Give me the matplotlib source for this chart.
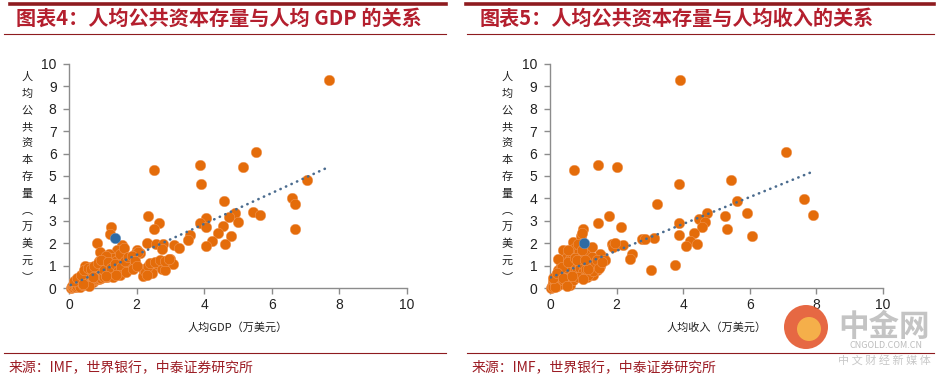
import matplotlib
matplotlib.use("Agg")
import matplotlib.pyplot as plt
from matplotlib.patches import Circle
from matplotlib.transforms import IdentityTransform
import numpy as np

plt.rcParams['font.family'] = ['Noto Sans CJK SC', 'DejaVu Sans']

# ---------------- data ----------------
gdp_x = [7.68, 2.50, 3.88, 3.92, 5.16, 5.52, 7.04, 6.59, 6.69, 6.69, 4.60, 5.43, 5.66, 4.92, 5.01,
         4.72, 4.06, 3.88, 4.06, 4.57, 4.42, 4.80, 4.24, 4.62, 4.04, 3.59, 3.53, 2.33, 2.67, 2.50,
         2.30, 2.56, 2.79, 2.74, 3.11, 3.25, 2.00, 2.10, 2.20, 2.20, 2.50, 2.60, 2.79, 2.74, 2.45,
         2.99, 3.09, 2.84, 1.24, 0.82, 0.92, 1.21, 1.56, 1.41, 1.61, 1.71, 1.81, 1.86,
         2.25, 2.35, 2.40, 2.55, 2.70, 2.85, 2.95, 2.30,
         0.05, 0.08, 0.10, 0.12, 0.15, 0.18, 0.20, 0.22, 0.25, 0.28, 0.30, 0.32, 0.35, 0.38, 0.40,
         0.42, 0.45, 0.48, 0.50, 0.52, 0.55, 0.58, 0.60, 0.62, 0.65, 0.68, 0.70, 0.72, 0.75, 0.78,
         0.80, 0.82, 0.85, 0.88, 0.90, 0.92, 0.95, 0.98, 1.00, 1.02, 1.05, 1.08, 1.10, 1.12, 1.15,
         1.18, 1.20, 1.22, 1.25, 1.28, 1.30, 1.32, 1.35, 1.38, 1.40, 1.42, 1.45, 1.50, 1.52, 1.55,
         1.60, 1.62, 1.65, 1.70, 1.75, 1.80, 1.85, 1.90, 1.95, 2.05, 0.60, 0.30, 0.48, 1.08, 1.62,
         0.15, 0.25, 0.35, 0.45, 0.55, 0.65, 0.75, 0.85, 0.95, 1.05, 1.15, 1.25, 1.35, 1.45, 1.55,
         1.65, 1.75, 1.85, 1.95, 1.30, 1.50, 1.70, 1.90, 2.00, 0.40, 0.70, 1.10, 1.40]
gdp_y = [9.28, 5.29, 5.51, 4.66, 5.41, 6.08, 4.81, 4.02, 3.77, 2.62, 3.89, 3.40, 3.28, 3.37, 2.95,
         3.17, 3.13, 2.88, 2.73, 2.76, 2.46, 2.33, 2.09, 1.98, 1.86, 2.38, 2.16, 3.22, 2.92, 2.62,
         2.03, 1.98, 1.98, 1.73, 1.91, 1.80, 1.68, 1.58, 0.86, 0.55, 0.94, 1.09, 1.21, 0.86, 0.69,
         1.31, 1.07, 0.79, 2.73, 2.03, 1.59, 2.43, 1.91, 1.68, 1.39, 1.09, 0.94, 1.24,
         0.75, 1.00, 1.10, 1.15, 1.25, 1.20, 1.30, 0.60,
         0.02, 0.05, 0.10, 0.03, 0.08, 0.15, 0.05, 0.20, 0.10, 0.30, 0.15, 0.05, 0.25, 0.40, 0.12,
         0.55, 0.30, 0.20, 0.70, 0.15, 0.35, 0.50, 0.25, 0.95, 0.60, 0.30, 0.25, 0.45, 0.70, 0.35,
         0.55, 0.40, 0.90, 0.40, 1.20, 0.45, 0.45, 0.75, 1.05, 0.55, 0.50, 1.30, 0.60, 0.50, 0.90,
         1.50, 0.55, 0.70, 1.10, 0.60, 1.35, 0.65, 0.80, 0.65, 1.20, 0.70, 0.95, 0.70, 1.50, 0.80,
         0.80, 1.00, 0.85, 0.90, 1.00, 1.00, 1.10, 1.30, 1.50, 1.60, 0.10, 0.35, 1.00, 1.45, 1.80,
         0.30, 0.45, 0.60, 0.80, 0.90, 0.85, 1.00, 1.10, 1.25, 0.80, 1.15, 0.90, 1.05, 0.75, 0.95,
         1.20, 1.40, 1.45, 1.20, 0.50, 0.60, 0.70, 0.85, 1.00, 0.20, 0.50, 0.55, 0.60]
gdp_blue_x = [1.37]
gdp_blue_y = [2.25]
gdp_trend_intercept = 0.10
gdp_trend_slope = 0.69

inc_x = [3.89, 0.73, 1.45, 2.01, 3.86, 7.08, 5.44, 7.62, 7.90, 5.62, 3.21, 5.93, 6.08, 5.26, 5.31,
         4.70, 4.46, 4.66, 4.56, 3.86, 3.86, 4.31, 4.21, 4.41, 4.09, 3.76, 3.04, 3.13, 2.76, 2.86,
         2.14, 1.77, 1.43, 1.00, 1.85, 2.00, 2.20, 1.90, 1.95, 2.45, 2.40, 1.10, 1.25, 1.60, 1.50,
         1.40, 1.10, 1.65, 0.40, 0.70, 1.30, 1.50, 1.45,
         0.02, 0.05, 0.08, 0.10, 0.12, 0.15, 0.18, 0.20, 0.22, 0.25, 0.28, 0.30, 0.32, 0.35, 0.38,
         0.40, 0.42, 0.45, 0.48, 0.50, 0.52, 0.55, 0.58, 0.60, 0.62, 0.65, 0.68, 0.70, 0.72, 0.75,
         0.78, 0.80, 0.82, 0.85, 0.88, 0.90, 0.92, 0.95, 0.98, 1.00, 1.05, 1.08, 1.12, 1.15, 1.20,
         1.25, 1.30, 1.35, 1.40, 1.48, 1.55, 0.15, 0.30, 0.60, 0.45, 0.70, 0.85, 1.00, 0.25, 0.55,
         0.85, 0.95, 0.10, 0.35, 0.55, 0.75, 0.95, 1.15, 0.20, 0.40, 0.65, 0.80, 1.05, 0.50]
inc_y = [9.28, 5.29, 5.51, 5.41, 4.66, 6.08, 4.81, 3.99, 3.28, 3.89, 3.77, 3.37, 2.32, 3.20, 2.62,
         3.37, 3.10, 2.95, 2.73, 2.88, 2.38, 2.46, 2.10, 1.98, 1.86, 1.01, 0.79, 2.24, 2.18, 2.18,
         2.73, 3.20, 2.92, 2.62, 1.98, 1.94, 1.90, 1.83, 2.00, 1.54, 1.28, 1.68, 1.83, 1.39, 1.53,
         0.79, 0.49, 1.24, 1.68, 2.06, 0.60, 1.00, 1.20,
         0.02, 0.10, 0.25, 0.05, 0.40, 0.15, 0.60, 0.30, 0.08, 0.80, 0.45, 0.20, 1.00, 0.60, 0.35,
         1.20, 0.80, 0.50, 1.10, 0.25, 1.40, 0.70, 0.95, 1.30, 0.45, 1.55, 0.85, 1.15, 0.60, 1.80,
         1.00, 1.40, 0.75, 1.20, 1.60, 0.90, 2.30, 1.35, 0.70, 1.05, 1.50, 0.85, 1.20, 0.60, 1.00,
         1.40, 0.75, 1.10, 1.25, 0.90, 1.15, 0.05, 0.70, 0.15, 0.90, 0.35, 0.50, 0.40, 1.30, 1.70,
         1.95, 2.45, 0.45, 0.95, 1.15, 1.35, 1.70, 0.85, 0.65, 0.45, 0.55, 1.25, 1.25, 0.10]
inc_blue_x = [1.03]
inc_blue_y = [2.03]
inc_trend_intercept = 0.46
inc_trend_slope = 0.60

x_ticks = [0, 2, 4, 6, 8, 10]
y_ticks = [0, 1, 2, 3, 4, 5, 6, 7, 8, 9, 10]
titles = ["图表4：人均公共资本存量与人均 GDP 的关系", "图表5：人均公共资本存量与人均收入的关系"]
xlabels = ["人均GDP（万美元）", "人均收入（万美元）"]
ylabel_chars = list("人均公共资本存量︵万美元︶")
source = "来源：IMF，世界银行，中泰证券研究所"

# ---------------- styling ----------------
W, H = 941, 379
fig = plt.figure(figsize=(W / 100, H / 100), dpi=100)
ORANGE = "#E46C0A"
BLUE = "#2E6BA4"
TREND = "#4A6B8E"
DARKRED = "#9C1C24"
TITLE_RED = "#B41F2E"
AX = "#8C8C8C"

def fx(px):
    return px / W

def fy(py):
    return 1 - py / H

panels = [
    dict(x0=69, x1=407, xs=gdp_x, ys=gdp_y, bx=gdp_blue_x, by=gdp_blue_y,
         b=gdp_trend_intercept, m=gdp_trend_slope, title=titles[0], xl=xlabels[0],
         tx=16, ylx=27, line0=4, line1=447, topline0=10),
    dict(x0=550, x1=883, xs=inc_x, ys=inc_y, bx=inc_blue_x, by=inc_blue_y,
         b=inc_trend_intercept, m=inc_trend_slope, title=titles[1], xl=xlabels[1],
         tx=480, ylx=507, line0=467, line1=935, topline0=466),
]

for p in panels:
    ax = fig.add_axes([fx(p['x0']), fy(288), fx(p['x1'] - p['x0']), (288 - 64) / H])
    ax.set_xlim(0, 10)
    ax.set_ylim(0, 10)
    for s in ['top', 'right']:
        ax.spines[s].set_visible(False)
    for s in ['left', 'bottom']:
        ax.spines[s].set_color(AX)
        ax.spines[s].set_linewidth(1.0)
    ax.set_xticks(x_ticks)
    ax.set_yticks(y_ticks)
    ax.tick_params(axis='both', direction='out', length=4, width=1.0, color=AX,
                   labelsize=10, labelcolor='#222222')
    ax.tick_params(axis='x', pad=3)
    ax.tick_params(axis='y', pad=5)
    for lab in ax.get_xticklabels() + ax.get_yticklabels():
        lab.set_fontfamily(['Liberation Sans', 'DejaVu Sans'])
    ax.patch.set_alpha(0)

    ax.scatter(p['xs'], p['ys'], s=58, color=ORANGE, edgecolors='#F2A066',
               linewidths=0.3, zorder=3, clip_on=False)
    ax.scatter(p['bx'], p['by'], s=58, color=BLUE, edgecolors='#7FA6CC',
               linewidths=0.3, zorder=4, clip_on=False)
    tx = np.array([min(p['xs']), max(p['xs'])])
    ax.plot(tx, p['b'] + p['m'] * tx, linestyle=(0, (0.1, 2.2)), dash_capstyle='round',
            color=TREND, linewidth=1.9, zorder=5)

    # titles & lines
    fig.text(fx(p['tx']), fy(18), p['title'], fontsize=14.5, fontweight='bold',
             color=TITLE_RED, va='center', ha='left')
    fig.add_artist(plt.Line2D([fx(p['topline0']), fx(p['line1'] - 1)], [fy(4), fy(4)],
                              color='#8E1B1F', linewidth=2.6))
    fig.add_artist(plt.Line2D([fx(p['line0']), fx(p['line1'] - 1)], [fy(33.5), fy(33.5)],
                              color='#8E1B1F', linewidth=0.8))
    fig.add_artist(plt.Line2D([fx(p['line0']), fx(p['line1'] - 1)], [fy(353), fy(353)],
                              color='#8E1B1F', linewidth=0.8))
    fig.text(fx(p['line0'] + 5), fy(367), source, fontsize=10, color=DARKRED,
             va='center', ha='left')

    # axis labels
    fig.text(fx((p['x0'] + p['x1']) / 2), fy(327), p['xl'], fontsize=8, color='#222222',
             ha='center', va='center')
    n = len(ylabel_chars)
    for i, ch in enumerate(ylabel_chars):
        fig.text(fx(p['ylx']), fy(77 + i * (277 - 77) / (n - 1)), ch, fontsize=8,
                 color='#222222', ha='center', va='center')

# watermark
fig.add_artist(Circle((806, H - 327), 22, transform=IdentityTransform(),
                      facecolor='#E4572E', edgecolor='none', alpha=0.9))
fig.add_artist(Circle((809, H - 329), 12, transform=IdentityTransform(),
                      facecolor='#F7B84B', edgecolor='none', alpha=0.9))
fig.text(fx(884), fy(327), "中金网", fontsize=22, color='#C4C4C4', ha='center', va='center',
         fontweight='bold')
fig.text(fx(886), fy(346), "CNGOLD.COM.CN", fontsize=6.5, color='#BDBDBD', ha='center',
         va='center')
fig.text(fx(884), fy(360), "中 文 财 经 新 媒 体", fontsize=8, color='#C8C8C8', ha='center',
         va='center')

fig.savefig("out.png", dpi=100)
